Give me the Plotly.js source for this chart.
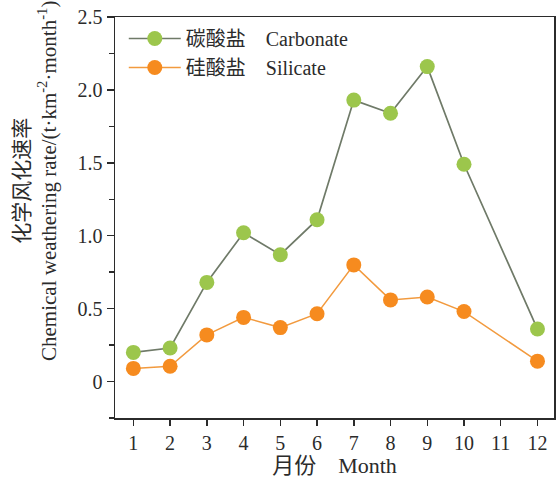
<!DOCTYPE html>
<html>
<head>
<meta charset="utf-8">
<script src="https://cdn.plot.ly/plotly-3.0.1.min.js"></script>
<style>
  html, body { margin: 0; padding: 0; background: #ffffff; }
  #chart { width: 556px; height: 478px; }
</style>
</head>
<body>
<div id="chart"></div>
<script>
// Monthly chemical weathering rates (t·km⁻²·month⁻¹); month 11 has no sample
const months = [1, 2, 3, 4, 5, 6, 7, 8, 9, 10, 11, 12];
const carbonate = [0.20, 0.23, 0.68, 1.02, 0.87, 1.11, 1.93, 1.84, 2.16, 1.49, null, 0.36];
const silicate  = [0.09, 0.105, 0.32, 0.44, 0.37, 0.465, 0.80, 0.56, 0.58, 0.48, null, 0.14];

const yTickVals = [0, 0.5, 1.0, 1.5, 2.0, 2.5];
const yTickText = ['0', '0.5', '1.0', '1.5', '2.0', '2.5'];
const xTickVals = months;
const xTickText = ['1', '2', '3', '4', '5', '6', '7', '8', '9', '10', '11', '12'];

const yTitle = '化学风化速率<br>Chemical weathering rate/(t·km<sup>-2</sup>·month<sup>-1</sup>)';
const xTitle = '月份&nbsp;&nbsp;&nbsp;&nbsp;Month';

const serif = '"Liberation Serif", "Times New Roman", "Noto Sans CJK SC", serif';
const ink = '#2b2b2b';

const traces = [
  {
    x: months, y: carbonate,
    name: '碳酸盐&nbsp;&nbsp;&nbsp;&nbsp;Carbonate',
    mode: 'lines+markers',
    connectgaps: true,
    line: { color: '#6f7a68', width: 1.7 },
    marker: { color: '#9cc64c', size: 15, line: { width: 0 } }
  },
  {
    x: months, y: silicate,
    name: '硅酸盐&nbsp;&nbsp;&nbsp;&nbsp;Silicate',
    mode: 'lines+markers',
    connectgaps: true,
    line: { color: '#f29a3e', width: 1.5 },
    marker: { color: '#f68b1f', size: 15, line: { width: 0 } }
  }
];

const layout = {
  width: 556, height: 478,
  margin: { l: 115, r: 2, t: 17, b: 60 },
  paper_bgcolor: '#ffffff',
  plot_bgcolor: '#ffffff',
  font: { family: serif, size: 20, color: ink },
  showlegend: true,
  legend: {
    x: 0.02, y: 0.995, xanchor: 'left', yanchor: 'top',
    bgcolor: 'rgba(0,0,0,0)',
    font: { family: serif, size: 20, color: ink },
    tracegroupgap: 0,
    itemwidth: 52
  },
  xaxis: {
    range: [0.5, 12.45],
    tickmode: 'array', tickvals: xTickVals, ticktext: xTickText,
    ticks: 'outside', ticklen: 6, tickwidth: 1.5, tickcolor: ink,
    showline: true, linecolor: ink, linewidth: 1.5, mirror: true,
    showgrid: false, zeroline: false,
    tickfont: { family: serif, size: 20, color: ink },
    title: { text: xTitle, font: { family: serif, size: 22, color: ink }, standoff: 4 }
  },
  yaxis: {
    range: [-0.25, 2.5],
    tickmode: 'array', tickvals: yTickVals, ticktext: yTickText,
    ticks: 'outside', ticklen: 7, tickwidth: 1.5, tickcolor: ink,
    minor: { dtick: 0.25, tick0: 0, ticks: 'outside', ticklen: 5, tickwidth: 1.5, tickcolor: ink, showgrid: false },
    showline: true, linecolor: ink, linewidth: 1.5, mirror: true,
    showgrid: false, zeroline: false,
    tickfont: { family: serif, size: 20, color: ink }
  },
  annotations: [
    {
      text: yTitle,
      xref: 'paper', yref: 'paper',
      x: 0, y: 0.591, xanchor: 'center', yanchor: 'middle',
      xshift: -80,
      textangle: -90,
      showarrow: false,
      font: { family: serif, size: 21, color: ink }
    }
  ]
};

Plotly.newPlot('chart', traces, layout, { displayModeBar: false, staticPlot: true });
</script>
</body>
</html>
